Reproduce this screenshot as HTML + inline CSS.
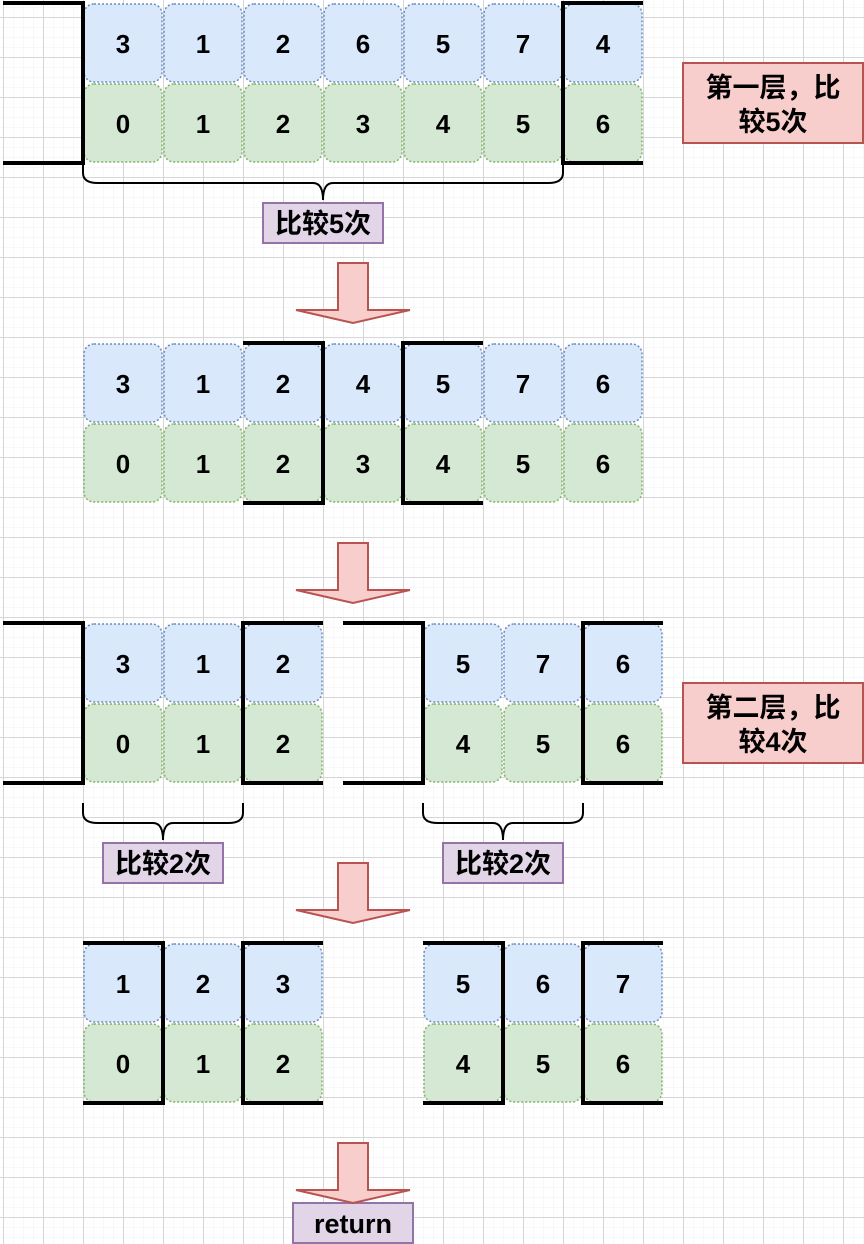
<!DOCTYPE html>
<html><head><meta charset="utf-8"><style>
html,body{margin:0;padding:0;background:#fff;}
svg{display:block;}
text{font-family:"Liberation Sans","Noto Sans CJK SC",sans-serif;font-weight:bold;fill:#000;}
</style></head><body>
<svg width="864" height="1244" viewBox="0 0 864 1244" xmlns="http://www.w3.org/2000/svg">
<defs>
<pattern id="minor" width="10" height="10" patternUnits="userSpaceOnUse" x="3" y="7">
<path d="M0 0H10M0 0V10" stroke="#f0f0f0" stroke-width="1" fill="none"/>
</pattern>
<pattern id="major" width="40" height="40" patternUnits="userSpaceOnUse" x="3" y="17">
<path d="M0 0.5H40M0.5 0V40" stroke="#d6d6d6" stroke-width="1" fill="none"/>
</pattern>
<g id="b"><rect x="1" y="1" width="78" height="78" rx="10" fill="#dae8fc" stroke="#6c8ebf" stroke-width="1.5" stroke-dasharray="2 2"/></g>
<g id="g"><rect x="1" y="1" width="78" height="78" rx="10" fill="#d5e8d4" stroke="#82b366" stroke-width="1.5" stroke-dasharray="2 2"/></g>
<path id="arr" d="M338 0H368V47H410L353 60L296 47H338Z" fill="#f8cecc" stroke="#b85450" stroke-width="2"/>
</defs>
<rect width="864" height="1244" fill="url(#minor)"/>
<rect width="864" height="1244" fill="url(#major)"/>

<g font-size="26" text-anchor="middle">
<use href="#b" x="83" y="3"/><use href="#b" x="163" y="3"/><use href="#b" x="243" y="3"/><use href="#b" x="323" y="3"/><use href="#b" x="403" y="3"/><use href="#b" x="483" y="3"/><use href="#b" x="563" y="3"/>
<use href="#g" x="83" y="83"/><use href="#g" x="163" y="83"/><use href="#g" x="243" y="83"/><use href="#g" x="323" y="83"/><use href="#g" x="403" y="83"/><use href="#g" x="483" y="83"/><use href="#g" x="563" y="83"/>
<text x="123" y="53">3</text><text x="203" y="53">1</text><text x="283" y="53">2</text><text x="363" y="53">6</text><text x="443" y="53">5</text><text x="523" y="53">7</text><text x="603" y="53">4</text>
<text x="123" y="133">0</text><text x="203" y="133">1</text><text x="283" y="133">2</text><text x="363" y="133">3</text><text x="443" y="133">4</text><text x="523" y="133">5</text><text x="603" y="133">6</text>

<use href="#b" x="83" y="343"/><use href="#b" x="163" y="343"/><use href="#b" x="243" y="343"/><use href="#b" x="323" y="343"/><use href="#b" x="403" y="343"/><use href="#b" x="483" y="343"/><use href="#b" x="563" y="343"/>
<use href="#g" x="83" y="423"/><use href="#g" x="163" y="423"/><use href="#g" x="243" y="423"/><use href="#g" x="323" y="423"/><use href="#g" x="403" y="423"/><use href="#g" x="483" y="423"/><use href="#g" x="563" y="423"/>
<text x="123" y="393">3</text><text x="203" y="393">1</text><text x="283" y="393">2</text><text x="363" y="393">4</text><text x="443" y="393">5</text><text x="523" y="393">7</text><text x="603" y="393">6</text>
<text x="123" y="473">0</text><text x="203" y="473">1</text><text x="283" y="473">2</text><text x="363" y="473">3</text><text x="443" y="473">4</text><text x="523" y="473">5</text><text x="603" y="473">6</text>

<use href="#b" x="83" y="623"/><use href="#b" x="163" y="623"/><use href="#b" x="243" y="623"/>
<use href="#g" x="83" y="703"/><use href="#g" x="163" y="703"/><use href="#g" x="243" y="703"/>
<use href="#b" x="423" y="623"/><use href="#b" x="503" y="623"/><use href="#b" x="583" y="623"/>
<use href="#g" x="423" y="703"/><use href="#g" x="503" y="703"/><use href="#g" x="583" y="703"/>
<text x="123" y="673">3</text><text x="203" y="673">1</text><text x="283" y="673">2</text>
<text x="123" y="753">0</text><text x="203" y="753">1</text><text x="283" y="753">2</text>
<text x="463" y="673">5</text><text x="543" y="673">7</text><text x="623" y="673">6</text>
<text x="463" y="753">4</text><text x="543" y="753">5</text><text x="623" y="753">6</text>

<use href="#b" x="83" y="943"/><use href="#b" x="163" y="943"/><use href="#b" x="243" y="943"/>
<use href="#g" x="83" y="1023"/><use href="#g" x="163" y="1023"/><use href="#g" x="243" y="1023"/>
<use href="#b" x="423" y="943"/><use href="#b" x="503" y="943"/><use href="#b" x="583" y="943"/>
<use href="#g" x="423" y="1023"/><use href="#g" x="503" y="1023"/><use href="#g" x="583" y="1023"/>
<text x="123" y="993">1</text><text x="203" y="993">2</text><text x="283" y="993">3</text>
<text x="123" y="1073">0</text><text x="203" y="1073">1</text><text x="283" y="1073">2</text>
<text x="463" y="993">5</text><text x="543" y="993">6</text><text x="623" y="993">7</text>
<text x="463" y="1073">4</text><text x="543" y="1073">5</text><text x="623" y="1073">6</text>
</g>

<g fill="none" stroke="#000" stroke-width="4" stroke-linecap="square" stroke-linejoin="miter">
<path d="M5 3H83V163H5"/>
<path d="M641 3H563V163H641"/>
<path d="M245 343H323V503H245"/>
<path d="M481 343H403V503H481"/>
<path d="M5 623H83V783H5"/>
<path d="M321 623H243V783H321"/>
<path d="M345 623H423V783H345"/>
<path d="M661 623H583V783H661"/>
<path d="M85 943H163V1103H85"/>
<path d="M321 943H243V1103H321"/>
<path d="M425 943H503V1103H425"/>
<path d="M661 943H583V1103H661"/>
</g>

<g fill="none" stroke="#000" stroke-width="2">
<path d="M83 163V173Q83 183 98 183H313Q323 183 323 200Q323 183 333 183H548Q563 183 563 173V163"/>
<path d="M83 803V813Q83 823 98 823H153Q163 823 163 840Q163 823 173 823H228Q243 823 243 813V803"/>
<path d="M423 803V813Q423 823 438 823H493Q503 823 503 840Q503 823 513 823H568Q583 823 583 813V803"/>
</g>

<g stroke="#9673a6" stroke-width="2" fill="#e1d5e7">
<rect x="263" y="203" width="120" height="40"/>
<rect x="103" y="843" width="120" height="40"/>
<rect x="443" y="843" width="120" height="40"/>
<rect x="293" y="1203" width="120" height="40"/>
</g>
<g font-size="27" text-anchor="middle">
<text x="323" y="233">比较5次</text>
<text x="163" y="873">比较2次</text>
<text x="503" y="873">比较2次</text>
<text x="353" y="1233">return</text>
</g>

<g stroke="#b85450" stroke-width="2" fill="#f8cecc">
<rect x="683" y="63" width="180" height="80"/>
<rect x="683" y="683" width="180" height="80"/>
</g>
<g font-size="27" text-anchor="middle">
<text x="773" y="97">第一层，比</text>
<text x="773" y="131">较5次</text>
<text x="773" y="717">第二层，比</text>
<text x="773" y="751">较4次</text>
</g>

<use href="#arr" x="0" y="263"/>
<use href="#arr" x="0" y="543"/>
<use href="#arr" x="0" y="863"/>
<use href="#arr" x="0" y="1143"/>
</svg>
</body></html>
